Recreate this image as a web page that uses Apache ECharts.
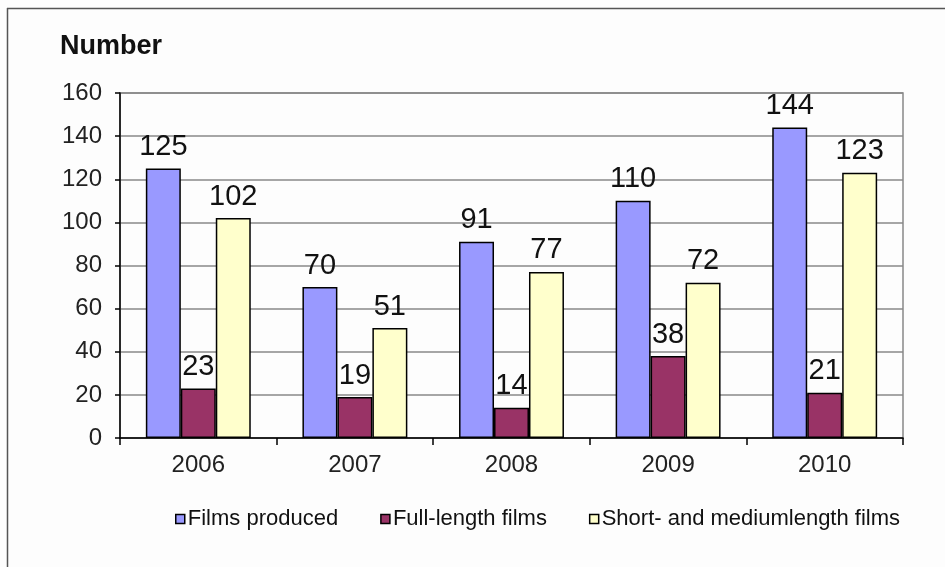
<!DOCTYPE html>
<html>
<head>
<meta charset="utf-8">
<script src="https://cdn.jsdelivr.net/npm/echarts@6/dist/echarts.min.js"></script>
<style>
html,body{margin:0;padding:0;background:#fdfdfd;}
#chart{width:945px;height:567px;}
</style>
</head>
<body>
<div id="chart"></div>
<script>
const categories = ['2006', '2007', '2008', '2009', '2010'];
const filmsProduced = [125, 70, 91, 110, 144];
const fullLength = [23, 19, 14, 38, 21];
const shortMedium = [102, 51, 77, 72, 123];
const seriesNames = ['Films produced', 'Full-length films', 'Short- and mediumlength films'];
const yTicks = { min: 0, max: 160, interval: 20 };

const font = 'Arial, "Liberation Sans", sans-serif';
const colors = ['#9999ff', '#993366', '#ffffcc'];

const chart = echarts.init(document.getElementById('chart'), null, { renderer: 'canvas' });

function barSeries(name, data, color) {
  return {
    name: name,
    type: 'bar',
    data: data,
    barGap: '0%',
    barCategoryGap: '33%',
    itemStyle: { color: color, borderColor: '#000', borderWidth: 1.5 },
    label: {
      show: true,
      position: 'top',
      distance: 7,
      fontFamily: font,
      fontSize: 29,
      color: '#111'
    },
    emphasis: { disabled: true },
    animation: false
  };
}

chart.setOption({
  backgroundColor: '#fdfdfd',
  animation: false,
  graphic: [
    { type: 'line', shape: { x1: 7, y1: 8.5, x2: 945, y2: 8.5 }, style: { stroke: '#555', lineWidth: 1.5 } },
    { type: 'line', shape: { x1: 7.5, y1: 8, x2: 7.5, y2: 567 }, style: { stroke: '#555', lineWidth: 1.5 } }
  ],
  title: {
    text: 'Number',
    left: 55,
    top: 28,
    textStyle: { fontFamily: font, fontSize: 27, fontWeight: 'bold', color: '#111' }
  },
  legend: {
    left: 170,
    top: 503,
    itemWidth: 9,
    itemHeight: 9,
    itemGap: 42,
    icon: 'rect',
    textStyle: { fontFamily: font, fontSize: 22, color: '#111', padding: [0, 0, 0, -2] },
    data: seriesNames.map((n, i) => ({ name: n, itemStyle: { color: colors[i], borderColor: '#000', borderWidth: 1.5 } }))
  },
  grid: {
    left: 120,
    right: 42,
    top: 93,
    bottom: 129,
    show: true,
    borderColor: '#888',
    borderWidth: 1.5,
    backgroundColor: 'transparent'
  },
  xAxis: {
    type: 'category',
    data: categories,
    axisLine: { lineStyle: { color: '#000', width: 1.5 } },
    axisTick: { show: true, length: 7, lineStyle: { color: '#000', width: 1.5 } },
    axisLabel: { fontFamily: font, fontSize: 24, color: '#222', margin: 15 }
  },
  yAxis: {
    type: 'value',
    min: yTicks.min,
    max: yTicks.max,
    interval: yTicks.interval,
    axisLine: { show: true, lineStyle: { color: '#000', width: 1.5 } },
    axisTick: { show: true, length: 5, lineStyle: { color: '#000', width: 1.5 } },
    splitLine: { show: true, lineStyle: { color: '#888', width: 1.5 } },
    axisLabel: { fontFamily: font, fontSize: 24, color: '#222', margin: 18 }
  },
  series: [
    barSeries(seriesNames[0], filmsProduced, colors[0]),
    barSeries(seriesNames[1], fullLength, colors[1]),
    barSeries(seriesNames[2], shortMedium, colors[2])
  ]
});
</script>
</body>
</html>
